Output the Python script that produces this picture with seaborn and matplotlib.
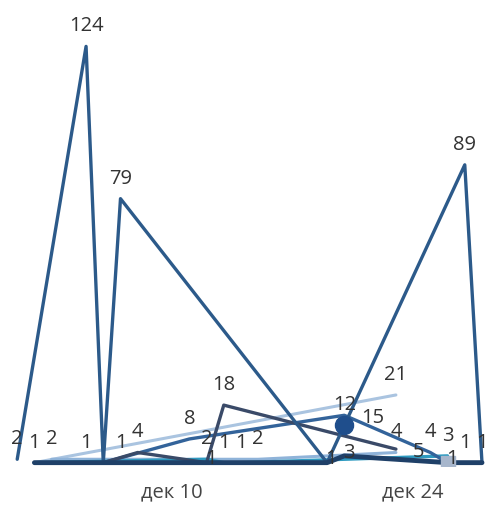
import pandas as pd
import numpy as np
import matplotlib.pyplot as plt
import seaborn as sns

sns.set_style('white')
plt.rcParams['font.family'] = ['Open Sans', 'DejaVu Sans']

# days of December and values per series
s_light_days = [2, 23]
s_light_vals = [1, 21]

s_pale_days = [3, 15, 23]
s_pale_vals = [2, 2, 4]

s_teal_days = [2, 12, 13, 14, 26]
s_teal_vals = [1, 2, 1, 1, 3]

s_mid_days = [6, 11, 20, 25, 26]
s_mid_vals = [1, 8, 15, 4, 1]

s_slate_days = [6, 8, 12, 13, 23]
s_slate_vals = [1, 4, 1, 18, 5]

s_main_days = [1, 5, 6, 7, 19, 20, 27, 28]
s_main_vals = [2, 124, 1, 79, 1, 12, 89, 1]

s_base_days = [2, 5, 7, 12, 19, 20, 26, 27, 28]
s_base_vals = [1, 1, 1, 1, 1, 3, 1, 1, 1]

tick_days = [10, 24]
tick_labels = ['дек 10', 'дек 24']

series = [
    ('light', s_light_days, s_light_vals, '#aac4e0', 2.2),
    ('pale', s_pale_days, s_pale_vals, '#8fb3d9', 2.2),
    ('teal', s_teal_days, s_teal_vals, '#2e9ac0', 2.4),
    ('mid', s_mid_days, s_mid_vals, '#33639a', 2.4),
    ('slate', s_slate_days, s_slate_vals, '#3a4a68', 2.4),
    ('main', s_main_days, s_main_vals, '#2c5a8a', 2.4),
    ('base', s_base_days, s_base_vals, '#1f4068', 3.5),
]

# labels that overlap others are hidden, like the original tool does
hidden = {('main', 6), ('base', 2), ('base', 12), ('base', 19), ('base', 26),
          ('base', 28), ('slate', 6), ('mid', 6), ('teal', 2)}
beside = {('mid', 20), ('slate', 23)}
on_point = {('mid', 26), ('slate', 12), ('main', 19), ('base', 20)}

rows = []
for name, days, vals, col, lw in series:
    for d, v in zip(days, vals):
        rows.append({'series': name, 'date': pd.Timestamp(2023, 12, d), 'value': v})
df = pd.DataFrame(rows)

fig = plt.figure(figsize=(4.87, 5.06), dpi=100)
ax = fig.add_axes([0.0, 0.077, 1.0, 0.923])

for name, days, vals, col, lw in series:
    sub = df[df['series'] == name]
    sns.lineplot(data=sub, x='date', y='value', color=col, linewidth=lw,
                 estimator=None, sort=False, legend=False, ax=ax)
    for d, v in zip(sub['date'], sub['value']):
        key = (name, d.day)
        if key in hidden:
            continue
        if key in beside:
            ax.annotate(str(v), (d, v), xytext=(12, -1), textcoords='offset points',
                        ha='left', va='center', fontsize=14.5, color='#333333', zorder=6)
        elif key in on_point:
            ax.annotate(str(v), (d, v), xytext=(3, 3), textcoords='offset points',
                        ha='center', va='center', fontsize=14.5, color='#333333', zorder=6)
        else:
            ax.annotate(str(v), (d, v), xytext=(0, 8), textcoords='offset points',
                        ha='center', va='bottom', fontsize=14.5, color='#333333', zorder=6)

# highlighted points
hl = df[(df['series'] == 'main') & (df['date'].dt.day == 20)]
ax.plot(hl['date'], hl['value'], 'o', color='#1f4e8c', markersize=13, zorder=5)
sq = df[(df['series'] == 'mid') & (df['date'].dt.day == 26)]
ax.plot(sq['date'], sq['value'], 's', color='#a7b6cc', markersize=10, zorder=5)

ax.set_xlim(pd.Timestamp(2023, 11, 30), pd.Timestamp(2023, 12, 28, 7))
ax.set_ylim(0, 138)
ax.set_xticks([pd.Timestamp(2023, 12, d) for d in tick_days])
ax.set_xticklabels(tick_labels, fontsize=14.5, color='#444444')
ax.tick_params(axis='x', length=0, pad=11)
ax.set_yticks([])
ax.set_xlabel('')
ax.set_ylabel('')
sns.despine(ax=ax, left=True, bottom=True, top=True, right=True)
fig.savefig('out.png', dpi=100)
